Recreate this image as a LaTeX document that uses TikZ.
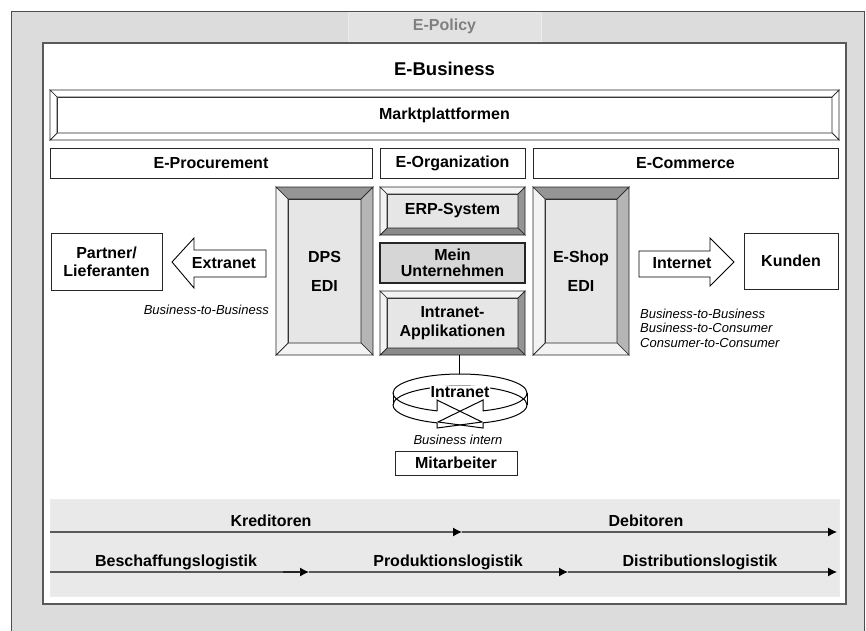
\documentclass[tikz,border=0pt]{standalone}
\usepackage{fontspec}
\setmainfont{Liberation Sans}
\usepackage{tikz}
\usetikzlibrary{arrows.meta, positioning}

\definecolor{bggrey}{HTML}{DCDCDC}
\definecolor{tabgrey}{HTML}{E2E2E2}
\definecolor{bandgrey}{HTML}{E9E9E9}
\definecolor{facegrey}{HTML}{E6E6E6}
\definecolor{meingrey}{HTML}{D6D6D6}
\definecolor{darkbevel}{HTML}{959595}
\definecolor{deepbevel}{HTML}{8A8A8A}
\definecolor{midbevel}{HTML}{B5B5B5}
\definecolor{lightbevel}{HTML}{F3F3F3}

% bevel frame round a node: node, depth, top, right, bottom, left
\newcommand{\bevel}[6]{%
  \coordinate (#1-nw) at ([shift={(-#2,#2)}]#1.north west);
  \coordinate (#1-ne) at ([shift={(#2,#2)}]#1.north east);
  \coordinate (#1-se) at ([shift={(#2,-#2)}]#1.south east);
  \coordinate (#1-sw) at ([shift={(-#2,-#2)}]#1.south west);
  \filldraw[bevline, fill=#3] (#1-nw) -- (#1-ne) -- (#1.north east) -- (#1.north west) -- cycle;
  \filldraw[bevline, fill=#4] (#1-ne) -- (#1-se) -- (#1.south east) -- (#1.north east) -- cycle;
  \filldraw[bevline, fill=#5] (#1-se) -- (#1-sw) -- (#1.south west) -- (#1.south east) -- cycle;
  \filldraw[bevline, fill=#6] (#1-sw) -- (#1-nw) -- (#1.north west) -- (#1.south west) -- cycle;
}

\begin{document}
\begin{tikzpicture}[x=1pt, y=-1pt]
        \tikzstyle{block} = [rectangle, draw=black!85, line width=0.9pt, fill=white, font=\bfseries\fontsize{16}{18}\selectfont, align=center, inner sep=0pt, outer sep=0pt]
        \tikzstyle{face} = [block, fill=facegrey]
        \tikzstyle{lbl} = [font=\bfseries\fontsize{16}{18}\selectfont, inner sep=0pt]
        \tikzstyle{note} = [font=\itshape\fontsize{13}{14.5}\selectfont, align=left, inner sep=0pt]
        \tikzstyle{bevline} = [draw=black!85, line width=0.7pt]
        \tikzstyle{ringline} = [draw=black, line width=1pt]
        \tikzstyle{fat} = [draw=black, line width=0.9pt, fill=white]
        \tikzstyle{line} = [draw=black!65, line width=1.2pt, -{Latex[length=9pt, width=9pt, black]}]

        \useasboundingbox (0,0) rectangle (866,630);
        \clip (0,0) rectangle (866,630);
        \fill[white] (0,0) rectangle (866,630);
        \draw[draw=black!70, line width=0.8pt, fill=bggrey] (11,11) rectangle (864,650);
        \node [block, draw=white!92!black, fill=tabgrey, text=black!50, minimum width=193pt, minimum height=29pt] (policy) at (444.5,26.5) {E-Policy};
        \draw[draw=black!65, line width=1.5pt, fill=white] (43,43) rectangle (846,604);
        \node [lbl, font=\bfseries\fontsize{18.5}{20}\selectfont] (ebusiness) at (444.5,69) {E-Business};

        \node [block, minimum width=775pt, minimum height=36pt] (markt) at (444.5,115) {Marktplattformen};
        \bevel{markt}{7pt}{white}{white}{white}{white}

        \node [block, minimum width=322pt, minimum height=30pt] (eproc) at (211,163) {E-Procurement};
        \node [block, minimum width=145pt, minimum height=30pt, right=8pt of eproc] (eorg) {E-Organization};
        \node [block, minimum width=305pt, minimum height=30pt, right=8pt of eorg] (ecom) {E-Commerce};

        \node [face, minimum width=73pt, minimum height=144pt] (dps) at (324.5,271) {DPS\\[11pt]EDI};
        \bevel{dps}{12pt}{darkbevel}{midbevel}{lightbevel}{lightbevel}
        \node [face, minimum width=72pt, minimum height=144pt] (eshop) at (581,271) {E-Shop\\[11pt]EDI};
        \bevel{eshop}{12pt}{darkbevel}{midbevel}{lightbevel}{lightbevel}

        \node [face, minimum width=131pt, minimum height=34pt] (erp) at (452.5,211) {ERP-System};
        \bevel{erp}{7pt}{lightbevel}{darkbevel}{deepbevel}{lightbevel}
        \node [block, fill=meingrey, draw=black!85, line width=2pt, minimum width=145pt, minimum height=40pt] (mein) at (452.5,263) {Mein\\[-2pt]Unternehmen};
        \node [face, minimum width=131pt, minimum height=50pt] (intraapp) at (452.5,323) {Intranet-\\[1pt]Applikationen};
        \bevel{intraapp}{7pt}{lightbevel}{darkbevel}{deepbevel}{lightbevel}

        \node [block, minimum width=111pt, minimum height=57pt] (partner) at (106.5,261.5) {Partner/\\Lieferanten};
        \node [block, minimum width=94pt, minimum height=56pt] (kunden) at (791,261) {Kunden};

        \filldraw[fat] (172,262) -- (194,238) -- (194,250) -- (266,250) -- (266,277) -- (194,277) -- (194,288) -- cycle;
        \node [lbl] (extranet) at (224,263) {Extranet};
        \filldraw[fat] (639,251) -- (710,251) -- (710,238) -- (734,262) -- (710,286) -- (710,277) -- (639,277) -- cycle;
        \node [lbl] (internet) at (682,263) {Internet};

        \node [note, anchor=east] (btob) at (269,310) {Business-to-Business};
        \node [note, anchor=west] (models) at (640,328) {Business-to-Business\\Business-to-Consumer\\Consumer-to-Consumer};

        \coordinate (ringtop) at (459,374);
        \draw[ringline] (ringtop) -- (ringtop |- intraapp-sw);
        \draw[ringline] (393,393) arc[start angle=180, end angle=360, x radius=67, y radius=19];
        \draw[ringline] (393,405) arc[start angle=180, end angle=360, x radius=67, y radius=19];
        \draw[ringline] (393,393) arc[start angle=180, end angle=110, x radius=67, y radius=19];
        \draw[ringline] (393,405) arc[start angle=180, end angle=110, x radius=67, y radius=19];
        \draw[ringline] (527,393) arc[start angle=0, end angle=70, x radius=67, y radius=19];
        \draw[ringline] (527,405) arc[start angle=0, end angle=70, x radius=67, y radius=19];
        \draw[ringline] (393,393) -- (393,405);
        \draw[ringline] (527,393) -- (527,405);
        \node [lbl, fill=white, inner sep=0.5pt] (intranet) at (460,392) {Intranet};
        \draw[ringline] (437,411) -- (437,400) -- (482,422) -- (437,428) -- (437,423);
        \draw[ringline] (483,411) -- (483,400) -- (438,422) -- (483,428) -- (483,423);
        \node [note] (intern) at (458,440) {Business intern};
        \node [block, minimum width=122pt, minimum height=24pt] (staff) at (456,463) {Mitarbeiter};

        \draw[draw=black!8, fill=bandgrey] (50,499) rectangle (839,596);
        \coordinate (k0) at (50,532);
        \coordinate (k1) at (462,532);
        \coordinate (k2) at (837,532);
        \coordinate (l0) at (50,572);
        \coordinate (l1) at (309,572);
        \coordinate (l2) at (568,572);
        \coordinate (l3) at (837,572);
        \path [line] (k0) -- (k1);
        \path [line] (k1) -- (k2);
        \path [line] (l0) -- (l1);
        \path [line] (l1) -- (l2);
        \path [line] (l2) -- (l3);
        \draw[black!85, line width=2pt] (283,572) -- (301,572);
        \node [lbl] (kred) at (271,521) {Kreditoren};
        \node [lbl] (deb) at (646,521) {Debitoren};
        \node [lbl] (beschaffung) at (176,562) {Beschaffungslogistik};
        \node [lbl] (produktion) at (448,562) {Produktionslogistik};
        \node [lbl] (distribution) at (700,562) {Distributionslogistik};
\end{tikzpicture}
\end{document}
